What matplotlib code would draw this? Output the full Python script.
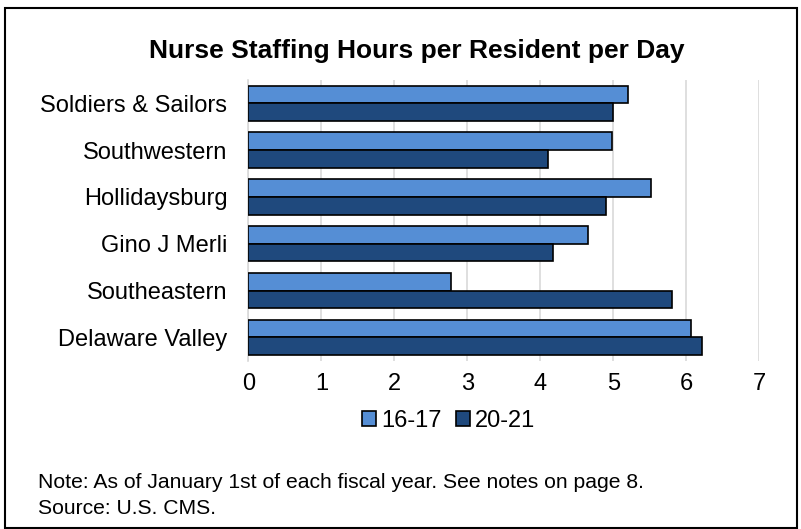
import matplotlib.pyplot as plt
from matplotlib.patches import Rectangle

plt.rcParams['font.family'] = ['Liberation Sans', 'DejaVu Sans']

# Nurse staffing hours per resident per day
categories = ["Soldiers & Sailors", "Southwestern", "Hollidaysburg",
              "Gino J Merli", "Southeastern", "Delaware Valley"]
fy_16_17 = [5.20, 4.98, 5.52, 4.65, 2.78, 6.07]
fy_20_21 = [5.00, 4.10, 4.90, 4.18, 5.80, 6.21]
series_names = ["16-17", "20-21"]
colors = ["#558ED5", "#1F497D"]

fig = plt.figure(figsize=(8.01, 5.29), dpi=100)
ax = fig.add_axes([0.310, 0.318, 0.638, 0.531])

y = list(range(len(categories)))
h = 0.378
ax.barh([v - h / 2 for v in y], fy_16_17, height=h, color=colors[0],
        edgecolor="black", linewidth=1.2, label=series_names[0], zorder=3)
ax.barh([v + h / 2 for v in y], fy_20_21, height=h, color=colors[1],
        edgecolor="black", linewidth=1.2, label=series_names[1], zorder=3)

ax.set_ylim(len(categories) - 0.5, -0.5)
ax.set_xlim(0, 7)
ax.set_xticks(range(8))
ax.set_yticks(y)
ax.set_yticklabels(categories, fontsize=17)
ax.tick_params(axis="x", labelsize=17, length=0, pad=9)
ax.tick_params(axis="y", length=0, pad=15)
ax.grid(axis="x", color="#D9D9D9", linewidth=1.2, zorder=0)
for s in ["top", "right", "bottom"]:
    ax.spines[s].set_visible(False)
ax.spines["left"].set_color("#D9D9D9")
ax.spines["left"].set_linewidth(1.2)

fig.text(0.52, 0.903, "Nurse Staffing Hours per Resident per Day",
         ha="center", va="center", fontsize=19, fontweight="bold")

fig.legend(loc="center", bbox_to_anchor=(0.56, 0.205), ncol=2, frameon=False,
           fontsize=17, handlelength=0.6, handleheight=0.6, handletextpad=0.2,
           columnspacing=0.6)

fig.text(0.047, 0.088, "Note: As of January 1st of each fiscal year. See notes on page 8.",
         ha="left", va="center", fontsize=15.2)
fig.text(0.047, 0.038, "Source: U.S. CMS.", ha="left", va="center", fontsize=15.2)

fig.patches.append(Rectangle((5 / 801, 1 / 529), 792 / 801, 520 / 529,
                             transform=fig.transFigure, fill=False,
                             edgecolor="black", linewidth=1.5))

fig.savefig("out.png", dpi=100)
